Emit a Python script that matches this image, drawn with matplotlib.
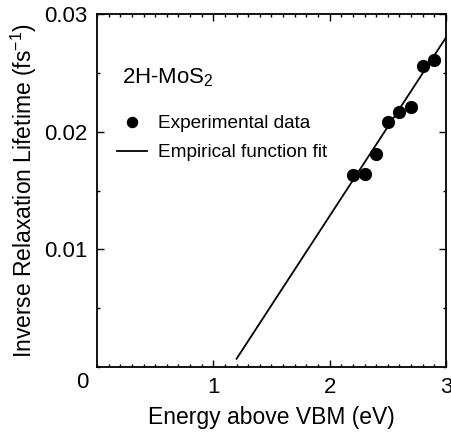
import matplotlib
matplotlib.use("Agg")
import matplotlib.pyplot as plt
from matplotlib.ticker import MultipleLocator

plt.rcParams["font.family"] = ["Liberation Sans", "DejaVu Sans"]
plt.rcParams["mathtext.fontset"] = "custom"
plt.rcParams["mathtext.rm"] = "Liberation Sans"
plt.rcParams["mathtext.it"] = "Liberation Sans"

# experimental points (energy in eV, inverse lifetime in 1/fs)
energy = [2.2, 2.3, 2.4, 2.5, 2.6, 2.7, 2.8, 2.9]
inv_lifetime = [0.0163, 0.0164, 0.0181, 0.0208, 0.0217, 0.0221, 0.0256, 0.0261]

fit_energy = [1.2, 3.0]
fit_inv_lifetime = [0.0007, 0.0280]

xticks = [1, 2, 3]
yticks = [0.01, 0.02, 0.03]
ytick_labels = ["0.01", "0.02", "0.03"]

fig = plt.figure(figsize=(4.52, 4.34), dpi=100)
ax = fig.add_axes([0.2146, 0.1544, 0.772, 0.8133])

ax.plot(fit_energy, fit_inv_lifetime, "-", c="k", lw=1.3, label="Empirical function fit")
ax.plot(energy, inv_lifetime, "o", c="k", ms=8.5, ls="none", label="Experimental data")

ax.set_xlim(0, 3); ax.set_ylim(0, 0.03)
ax.set_xticks(xticks); ax.set_xticklabels([str(t) for t in xticks])
ax.set_yticks(yticks); ax.set_yticklabels(ytick_labels)
ax.xaxis.set_minor_locator(MultipleLocator(0.1))
ax.yaxis.set_minor_locator(MultipleLocator(0.005))
ax.tick_params(which="both", direction="in", top=True, right=True, width=1, labelsize=16)
ax.tick_params(which="major", length=5, pad=7)
ax.tick_params(which="minor", length=2.5)
for s in ax.spines.values():
    s.set_linewidth(1.3)

# shared origin label
ax.text(-0.043, -0.045, "0", transform=ax.transAxes, ha="center", va="center", fontsize=16)

ax.set_xlabel("Energy above VBM (eV)", fontsize=16.5, labelpad=6)
ax.set_ylabel("Inverse Relaxation Lifetime (fs$^{\\mathregular{-1}}$)", fontsize=16.5, labelpad=3.5)

ax.text(0.072, 0.82, "2H-MoS$_{\\mathregular{2}}$", transform=ax.transAxes, fontsize=16, va="center")

h, l = ax.get_legend_handles_labels()
ax.legend(h[::-1], l[::-1], loc="upper left", bbox_to_anchor=(0.018, 0.752), frameon=False,
          fontsize=13.7, handlelength=1.6, handletextpad=0.55, labelspacing=0.62, borderaxespad=0.3,
          markerscale=0.85)

fig.savefig("out.png", dpi=100)
